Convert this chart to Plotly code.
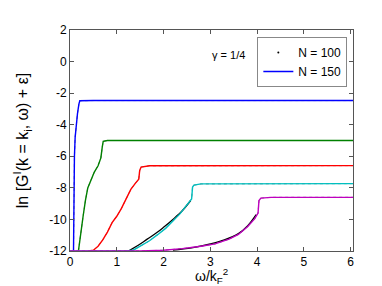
import plotly.graph_objects as go

# ---- data ----
blue_x = [0.075, 0.08, 0.085, 0.095, 0.11, 0.13, 0.16, 0.19, 0.21, 0.5, 1, 2, 3, 4, 5, 6.1]
blue_y = [-12, -10, -8, -6, -4.8, -4.0, -3.3, -2.7, -2.48, -2.47, -2.47, -2.47, -2.47, -2.47, -2.47, -2.47]

green_x = [0.18, 0.22, 0.28, 0.33, 0.38, 0.45, 0.52, 0.6, 0.66, 0.69, 0.71, 0.8, 1.5, 3, 4.5, 6.1]
green_y = [-12, -11, -9.8, -8.8, -8.0, -7.5, -7.0, -6.6, -6.1, -5.4, -5.05, -5.0, -5.0, -5.0, -5.0, -5.0]

red_x = [0.4, 0.5, 0.6, 0.7, 0.8, 0.9, 1.0, 1.1, 1.2, 1.3, 1.4, 1.47, 1.49, 1.52, 1.7, 3, 4.5, 6.1]
red_y = [-12, -11.95, -11.7, -11.3, -10.8, -10.2, -9.8, -9.3, -8.7, -8.1, -7.7, -7.45, -6.9, -6.68, -6.6, -6.59, -6.59, -6.59]

cyan_x = [0.0, 1.2, 1.35, 1.5, 1.7, 1.88, 2.05, 2.2, 2.35, 2.45, 2.55, 2.6, 2.62, 2.65, 2.8, 4, 5, 6.1]
cyan_y = [-12, -12, -11.95, -11.7, -11.35, -10.95, -10.55, -10.1, -9.65, -9.27, -8.9, -8.7, -7.95, -7.83, -7.75, -7.73, -7.73, -7.73]

magenta_x = [0.0, 1.5, 2.0, 2.4, 2.8, 3.1, 3.4, 3.6, 3.8, 3.95, 4.02, 4.04, 4.08, 4.3, 5, 6.1]
magenta_y = [-12, -12, -11.95, -11.85, -11.7, -11.55, -11.25, -10.95, -10.45, -9.95, -9.6, -8.8, -8.65, -8.6, -8.6, -8.6]

# N = 100 (black dots), nearly coinciding with N = 150
n100_cyan_x = [1.25, 1.45, 1.65, 1.85, 2.0, 2.2, 2.4, 2.58]
n100_cyan_y = [-12, -11.65, -11.25, -10.85, -10.5, -10.0, -9.45, -8.8]
n100_mag_x = [2.2, 2.6, 3.0, 3.3, 3.6, 3.8, 3.98]
n100_mag_y = [-11.95, -11.8, -11.55, -11.3, -10.9, -10.4, -9.7]

x_ticks = [0, 1, 2, 3, 4, 5, 6]
y_ticks = [-12, -10, -8, -6, -4, -2, 0, 2]

curves = [
    (blue_x, blue_y, "#0000ff"),
    (green_x, green_y, "#008000"),
    (red_x, red_y, "#ff0000"),
    (cyan_x, cyan_y, "#00bfbf"),
    (magenta_x, magenta_y, "#bf00bf"),
]

fig = go.Figure()

# N = 100: faint black dots underneath the N = 150 lines
for cx, cy, _ in curves:
    fig.add_trace(go.Scatter(x=cx, y=cy, mode="lines", showlegend=False,
                             line=dict(color="rgba(0,0,0,0.5)", width=1.0, dash="dot")))
for cx, cy in [(n100_cyan_x, n100_cyan_y), (n100_mag_x, n100_mag_y)]:
    fig.add_trace(go.Scatter(x=cx, y=cy, mode="lines", showlegend=False,
                             line=dict(color="black", width=1.3, shape="spline")))

for cx, cy, col in curves:
    fig.add_trace(go.Scatter(x=cx, y=cy, mode="lines", showlegend=False,
                             line=dict(color=col, width=1.4)))

# legend entries
fig.add_trace(go.Scatter(x=[None], y=[None], mode="markers", name="N = 100",
                         marker=dict(color="black", size=2)))
fig.add_trace(go.Scatter(x=[None], y=[None], mode="lines", name="N = 150",
                         line=dict(color="#0000ff", width=1.5)))

fig.add_annotation(x=3.38, y=0.42, text="γ = 1/4", showarrow=False,
                   font=dict(size=11, color="black"))

# x-axis title as annotation
fig.add_annotation(x=0.5, y=-0.115, xref="paper", yref="paper", xanchor="center",
                   yanchor="middle", showarrow=False,
                   text="ω/k<sub>F</sub><sup>2</sup>", font=dict(size=14, color="black"))

axis_common = dict(showgrid=False, zeroline=False, showline=True, linecolor="#555",
                   linewidth=1, mirror="ticks", ticks="inside", ticklen=4,
                   tickcolor="#555", tickfont=dict(size=12, color="black"))

fig.update_xaxes(range=[0, 6.05], tickvals=x_ticks, ticktext=[str(t) for t in x_ticks],
                 **axis_common)
fig.update_yaxes(range=[-12, 2], tickvals=y_ticks, ticktext=[str(t) for t in y_ticks],
                 title=dict(text="ln [G<sup>I</sup>(k = k<sub>i</sub>, ω) + ε]",
                            font=dict(size=16, color="black"), standoff=16),
                 **axis_common)

fig.update_layout(
    width=382, height=286,
    margin=dict(l=62, r=37, t=22, b=43),
    paper_bgcolor="white", plot_bgcolor="white",
    font=dict(family="Liberation Sans, Arial, sans-serif", color="black"),
    legend=dict(x=0.98, y=0.968, xanchor="right", yanchor="top",
                bgcolor="white", bordercolor="#888", borderwidth=1,
                font=dict(size=12), itemwidth=30, tracegroupgap=0,
                ),
)

fig.write_html("out.html")
